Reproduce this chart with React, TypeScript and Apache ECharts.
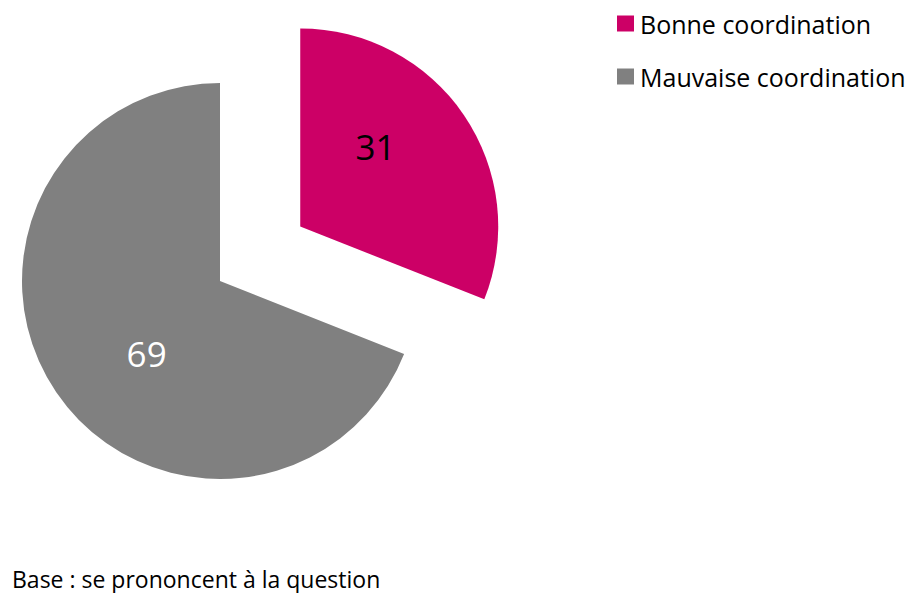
import React, { useEffect, useRef } from "react";
import * as echarts from "echarts";

const categories = ["Bonne coordination", "Mauvaise coordination"];
const values = [31, 69];
const colors = ["#CC0066", "#808080"];
const labelColors = ["#000000", "#FFFFFF"];
const footnote = "Base : se prononcent à la question";

const FONT = "'Open Sans', sans-serif";

export default function App() {
  const ref = useRef<HTMLDivElement>(null);
  useEffect(() => {
    if (!ref.current) return;
    const chart = echarts.init(ref.current, undefined, { renderer: "svg" });
    const labelShift = [
      { dx: -9, dy: -23 },
      { dx: 11, dy: 15 },
    ];
    chart.setOption({
      animation: false,
      backgroundColor: "#FFFFFF",
      legend: {
        orient: "vertical",
        left: 617,
        top: 11,
        padding: 0,
        itemWidth: 17,
        itemHeight: 16,
        itemGap: 28,
        selectedMode: false,
        icon: "rect",
        data: categories,
        textStyle: {
          fontFamily: FONT,
          fontSize: 25,
          color: "#000000",
          lineHeight: 25,
          padding: [0, 0, 0, 1],
        },
      },
      graphic: [
        {
          type: "text",
          left: 12,
          top: 567,
          style: {
            text: footnote,
            fontFamily: FONT,
            fontSize: 23,
            fill: "#000000",
          },
        },
      ],
      series: [
        {
          type: "pie",
          center: [220, 281],
          radius: [0, 198],
          startAngle: 90,
          clockwise: true,
          selectedMode: "multiple",
          selectedOffset: 97,
          emphasis: { disabled: true },
          label: {
            show: true,
            position: "inside",
            formatter: "{c}",
            fontFamily: FONT,
            fontSize: 35,
          },
          labelLine: { show: false },
          labelLayout: (params: any) => labelShift[params.dataIndex],
          itemStyle: { borderWidth: 0 },
          data: categories.map((name, i) => ({
            name,
            value: values[i],
            selected: i === 0,
            itemStyle: { color: colors[i] },
            label: { color: labelColors[i] },
          })),
        },
      ],
    });
    return () => chart.dispose();
  }, []);
  return (
    <div
      ref={ref}
      style={{ position: "absolute", left: 0, top: 0, width: 916, height: 593 }}
    />
  );
}
